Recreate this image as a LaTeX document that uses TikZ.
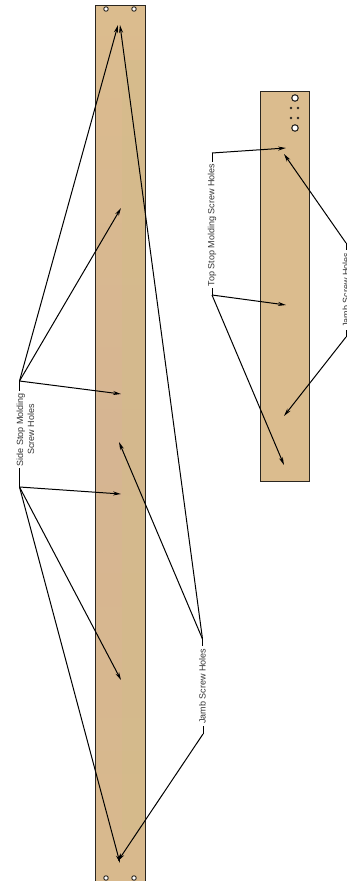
\documentclass[tikz,border=0pt]{standalone}
\usepackage{fontspec}
\setmainfont{Liberation Sans}
\usetikzlibrary{arrows.meta}
\definecolor{woodA}{HTML}{DBBC8E}
\definecolor{woodB}{HTML}{D8B98D}
\definecolor{woodC}{HTML}{D6B592}
\definecolor{woodY}{HTML}{D3BC8A}
\definecolor{edge}{HTML}{2A2620}
\definecolor{txt}{HTML}{333333}
\tikzset{
  board/.style={draw=edge,line width=1pt},
  lbl/.style={rotate=90,font=\fontsize{9}{11}\selectfont,text=txt,inner sep=0pt,align=center},
  stub/.style={line width=1pt,black},
  lead/.style={line width=1pt,black,-{Stealth[length=8pt,width=4pt]}},
  bighole/.style={circle,draw=edge,fill=white,line width=1.1pt,minimum size=6.5pt,inner sep=0pt},
  endhole/.style={circle,draw=edge,fill=white,line width=0.9pt,minimum size=4.5pt,inner sep=0pt},
  dothole/.style={circle,fill=edge,minimum size=2.6pt,inner sep=0pt}
}
\begin{document}
\begin{tikzpicture}[x=1pt,y=-1pt]
\useasboundingbox (0,0) rectangle (346,881);
\begin{scope}
\clip (0,0) rectangle (346,881);
% boards
\shade[top color=woodA,bottom color=woodC] (95,5) rectangle (145,440);
\shade[top color=woodC,bottom color=woodB] (95,440) rectangle (145,884);
\fill[woodY,opacity=0.55] (122,60) rectangle (145,830);
\draw[board] (95,5) rectangle (145,884);
\end{scope}
\fill[woodA] (260,91) rectangle (309,481);
\draw[board] (260,91) rectangle (309,481);
% holes
\node[endhole] (e1) at (106,9) {};
\node[endhole] (e2) at (134,9) {};
\node[endhole] (e3) at (106,878) {};
\node[endhole] (e4) at (134,878) {};
\node[bighole] (b1) at (295,98) {};
\node[bighole] (b2) at (295,128) {};
\node[dothole] (d1) at (291,108) {};
\node[dothole] (d2) at (298,108) {};
\node[dothole] (d3) at (291,118) {};
\node[dothole] (d4) at (298,118) {};
% labels
\node[lbl] (side) at (25.5,429.5) {Side Stop Molding\\Screw Holes};
\node[lbl] (jamb) at (202.5,686) {Jamb Screw Holes};
\node[lbl] (top) at (212,225) {Top Stop Molding Screw Holes};
\node[lbl] (jambr) at (346,290) {Jamb Screw Holes};
% junctions
\coordinate (s1) at (19.5,381);
\coordinate (s2) at (19.5,487);
\coordinate (j1) at (202.5,639);
\coordinate (j2) at (203,734);
\coordinate (t1) at (212,153);
\coordinate (t2) at (212,295);
\coordinate (r1) at (346,243);
\coordinate (r2) at (346,337);
% targets
\coordinate (a1) at (118,25);
\coordinate (a2) at (121,208);
\coordinate (a3) at (121,394);
\coordinate (a4) at (121,494);
\coordinate (a5) at (121,680);
\coordinate (a6) at (120,863);
\coordinate (a7) at (119,442);
\coordinate (a8) at (120,25);
\coordinate (a9) at (118,861);
\coordinate (c1) at (286,148);
\coordinate (c2) at (286,305);
\coordinate (c3) at (284,465);
\coordinate (c4) at (284,154);
\coordinate (c5) at (284,416);
% connectors
\draw[stub] (s1) -- ([yshift=2pt]s1 |- side.east);
\draw[stub] (s2) -- ([yshift=-2pt]s2 |- side.west);
\draw[stub] (j1) -- ([yshift=2pt]j1 |- jamb.east);
\draw[stub] (j2) -- ([yshift=-2pt]j2 |- jamb.west);
\draw[stub] (t1) -- ([yshift=2pt]t1 |- top.east);
\draw[stub] (t2) -- ([yshift=-2pt]t2 |- top.west);
\draw[stub] (r1) -- ([yshift=2pt]r1 |- jambr.east);
\draw[stub] (r2) -- ([yshift=-2pt]r2 |- jambr.west);
\draw[lead] (s1) -- (a1);
\draw[lead] (s1) -- (a2);
\draw[lead] (s1) -- (a3);
\draw[lead] (s2) -- (a4);
\draw[lead] (s2) -- (a5);
\draw[lead] (s2) -- (a6);
\draw[lead] (j1) -- (a7);
\draw[lead] (j1) -- (a8);
\draw[lead] (j2) -- (a9);
\draw[lead] (t1) -- (c1);
\draw[lead] (t2) -- (c2);
\draw[lead] (t2) -- (c3);
\draw[lead] (r1) -- (c4);
\draw[lead] (r2) -- (c5);
\end{tikzpicture}
\end{document}
